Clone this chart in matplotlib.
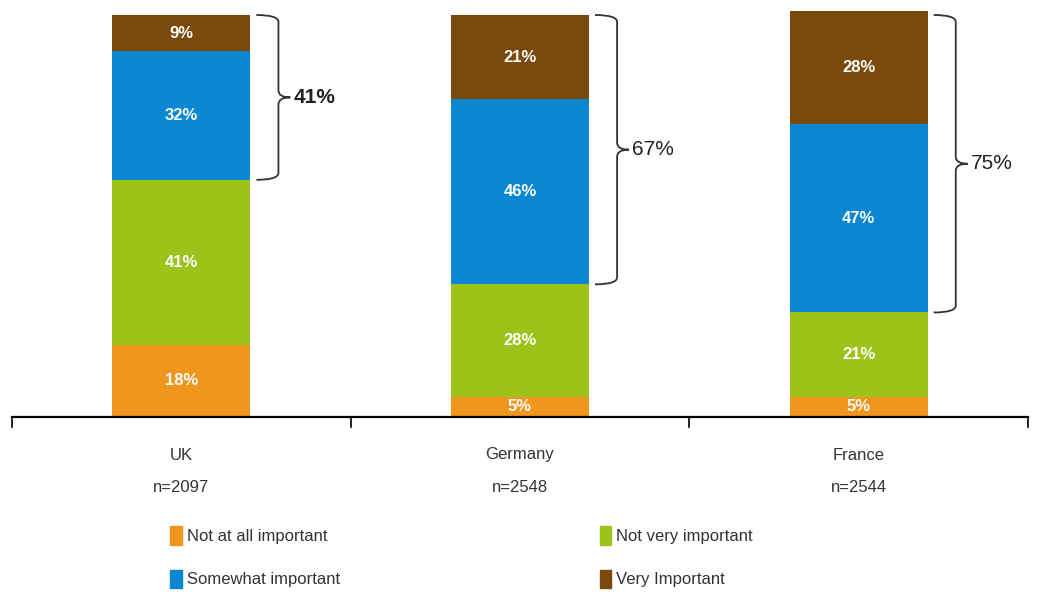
import matplotlib.pyplot as plt
from matplotlib.path import Path
from matplotlib.patches import PathPatch, Patch

plt.rcParams['font.family'] = ['Liberation Sans', 'DejaVu Sans']

countries = ["UK", "Germany", "France"]
sample_sizes = ["n=2097", "n=2548", "n=2544"]
series = ["Not at all important", "Not very important", "Somewhat important", "Very Important"]
not_at_all = [18, 5, 5]
not_very = [41, 28, 21]
somewhat = [32, 46, 47]
very = [9, 21, 28]
brace_totals = ["41%", "67%", "75%"]
colors = ["#F0961E", "#9DC31A", "#0A87D2", "#7A4A0C"]

W, H = 1041, 592
fig = plt.figure(figsize=(W / 100, H / 100), dpi=100)
ax = fig.add_axes([12 / W, (H - 417) / H, 1016 / W, 402 / H])
ax.set_xlim(0, 3)
ax.set_ylim(0, 100)
ax.axis("off")

px_x = 3 / 1016
px_y = 100 / 402

xs = [0.5, 1.5, 2.5]
bar_w = 138 * px_x
bottoms = [0, 0, 0]
layers = [not_at_all, not_very, somewhat, very]
for vals, col in zip(layers, colors):
    ax.bar(xs, vals, bar_w, bottom=bottoms, color=col, clip_on=False)
    for x, b, v in zip(xs, bottoms, vals):
        ax.text(x, b + v / 2, f"{v}%", ha="center", va="center", color="white",
                fontsize=12, fontweight="bold")
    bottoms = [b + v for b, v in zip(bottoms, vals)]


def brace(x0, y0, y1, width):
    # curly brace opening to the left, tip pointing right
    ym = (y0 + y1) / 2
    xm = x0 + width * 0.65
    xt = x0 + width
    r = 7 * px_y
    verts = [(x0, y1), (xm, y1), (xm, y1 - r),
             (xm, ym + r), (xm, ym), (xt, ym),
             (xm, ym), (xm, ym - r),
             (xm, y0 + r), (xm, y0), (x0, y0)]
    codes = [Path.MOVETO, Path.CURVE3, Path.CURVE3,
             Path.LINETO, Path.CURVE3, Path.CURVE3,
             Path.CURVE3, Path.CURVE3,
             Path.LINETO, Path.CURVE3, Path.CURVE3]
    ax.add_patch(PathPatch(Path(verts, codes), fill=False, lw=1.3,
                           edgecolor="#333333", clip_on=False))
    return xt, ym


for i, x in enumerate(xs):
    y0 = not_at_all[i] + not_very[i]
    y1 = min(y0 + somewhat[i] + very[i], 100)
    xt, ym = brace(x + bar_w / 2 + 6 * px_x, y0, y1, 34 * px_x)
    ax.text(xt + 3 * px_x, ym, brace_totals[i], ha="left", va="center",
            fontsize=15, color="#222222",
            fontweight="bold" if i == 0 else "normal")

# baseline axis with downward ticks
ax.plot([0, 3], [0, 0], color="black", lw=1.6, clip_on=False)
for t in range(4):
    ax.plot([t, t], [0, -10 * px_y], color="black", lw=1.2, clip_on=False)

for x, c, n in zip(xs, countries, sample_sizes):
    ax.text(x, -38 * px_y, c, ha="center", va="center", fontsize=12, color="#333333")
    ax.text(x, -70 * px_y, n, ha="center", va="center", fontsize=12, color="#333333")

handles = [Patch(color=colors[0]), Patch(color=colors[2]),
           Patch(color=colors[1]), Patch(color=colors[3])]
labels = [series[0], series[2], series[1], series[3]]
fig.legend(handles, labels, ncol=2, loc="center left",
           bbox_to_anchor=(155 / W, (H - 557) / H), frameon=False,
           fontsize=12, handlelength=0.7, handleheight=1.3, handletextpad=0.3,
           columnspacing=15.6, labelspacing=1.5, labelcolor="#333333")

fig.savefig("out.png", dpi=100)
